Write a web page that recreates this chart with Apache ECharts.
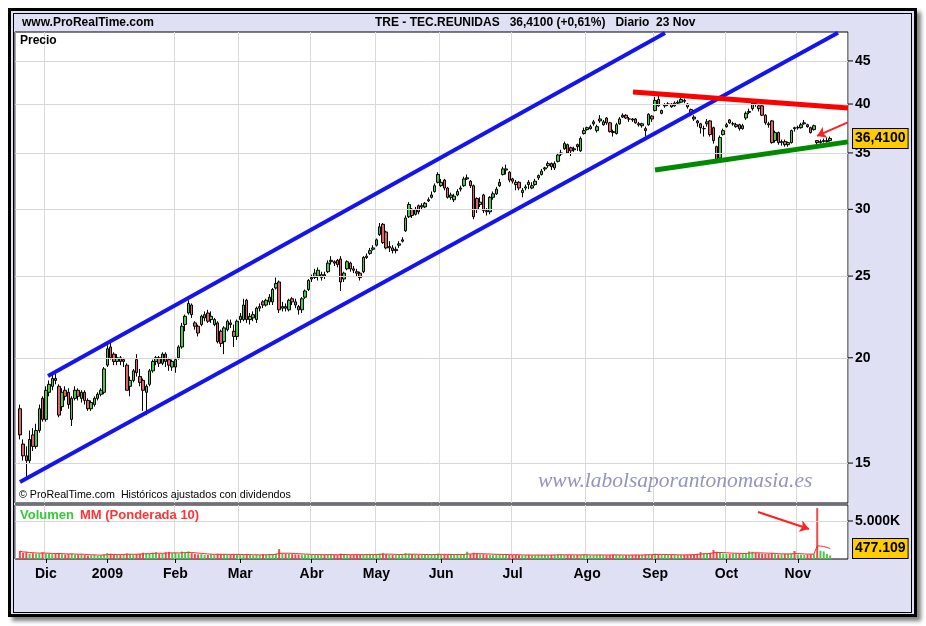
<!DOCTYPE html>
<html><head><meta charset="utf-8">
<script src="https://cdn.jsdelivr.net/npm/echarts@6/dist/echarts.min.js"></script>
<style>
html,body{margin:0;padding:0;background:#fff;}
#frame{position:absolute;left:8px;top:8px;width:909px;height:609px;box-sizing:border-box;border:3px solid #000;background:#e0e0f4;box-shadow:4px 4px 4px rgba(0,0,0,0.5);}
#inner{position:absolute;left:13px;top:13px;width:899px;height:600px;box-sizing:border-box;border:1px solid #000;}
#chart{position:absolute;left:0;top:0;width:926px;height:626px;}
</style></head>
<body><div id="frame"></div><div id="inner"></div><div id="chart"></div>
<script>
// ---------------- DATA ----------------
const holidays = ['2008-12-24','2008-12-25','2008-12-26','2008-12-31','2009-01-01','2009-04-10','2009-04-13','2009-05-01'];
const firstDay = '2008-11-18';
const slotCount = 257;
const monthLabels = ['Ene','Feb','Mar','Abr','May','Jun','Jul','Ago','Sep','Oct','Nov','Dic'];

// [open, close, low, high] per session, starting 2008-11-19
const candles = [
[17.4,16.2,16.0,17.6],[15.8,15.3,15.1,16.0],[15.3,15.1,14.4,15.7],[15.1,16.0,15.0,16.4],[16.2,15.7,15.5,16.5],
[15.7,16.4,15.6,16.7],[16.4,17.4,16.3,17.6],[17.9,16.9,16.8,18.0],[16.9,18.3,16.8,18.5],[18.2,18.6,18.0,18.8],
[18.5,18.9,18.3,19.1],[18.9,18.8,18.6,19.2],[18.5,17.1,17.0,18.6],[17.5,18.2,17.3,18.4],[18.3,18.0,17.8,18.5],
[18.2,17.6,17.4,18.4],[16.9,17.9,16.6,18.0],[17.9,18.3,17.8,18.5],[18.3,18.0,17.8,18.4],[17.9,18.2,17.7,18.3],
[18.2,17.8,17.6,18.3],[17.8,17.4,17.3,17.9],[17.4,17.7,17.3,17.8],[17.6,17.9,17.5,18.0],[17.9,18.1,17.8,18.2],
[18.1,18.3,18.0,18.4],[18.2,19.4,18.1,19.5],[19.6,20.5,19.5,20.7],[20.6,20.0,19.9,21.0],[20.2,19.8,19.6,20.3],
[19.8,20.0,19.6,20.2],[20.0,19.8,19.6,20.1],[19.8,19.9,19.5,20.0],[19.6,18.3,18.3,19.7],[18.5,18.8,18.0,19.0],
[18.8,19.3,18.7,19.4],[19.9,19.2,19.0,20.2],[19.0,18.7,18.5,19.4],[18.8,18.3,17.3,18.9],[18.2,18.5,17.1,18.6],
[18.6,19.3,18.5,19.4],[19.3,19.8,19.2,19.9],[19.8,20.0,19.6,20.1],[20.0,19.7,19.5,20.1],[19.7,20.2,19.6,20.3],
[20.2,19.8,19.5,20.3],[19.9,19.6,19.3,20.0],[19.5,19.8,19.3,19.9],[19.5,19.9,19.2,20.0],[20.0,20.6,19.9,20.7],
[20.6,21.8,20.5,22.0],[21.9,22.4,21.5,22.5],[22.6,23.2,22.5,23.4],[23.1,22.5,22.3,23.2],[22.0,21.8,21.6,22.1],
[21.8,21.4,21.2,21.9],[21.9,22.4,21.8,22.5],[22.3,22.5,22.1,22.7],[22.6,22.1,22.0,22.8],[22.2,22.4,22.0,22.7],
[21.9,22.2,21.8,22.3],[22.0,20.9,20.8,22.1],[21.5,20.8,20.6,21.6],[20.9,21.7,20.2,21.8],[21.6,22.1,21.5,22.2],
[22.0,21.9,21.7,22.2],[21.5,21.2,20.6,21.9],[21.2,22.1,21.0,22.2],[22.2,22.4,22.0,22.6],[22.2,23.1,22.1,23.5],
[23.4,22.2,22.0,23.5],[22.2,22.4,21.9,22.6],[22.3,22.5,22.1,22.7],[22.2,22.9,22.0,23.0],[22.9,23.0,22.7,23.2],
[23.3,23.1,22.9,23.4],[23.1,23.4,23.0,23.5],[23.3,23.6,23.1,23.8],[23.3,24.1,23.1,24.2],[24.2,24.5,24.1,24.9],
[24.6,22.8,22.6,24.7],[22.9,23.0,22.7,23.3],[23.0,22.9,22.7,23.2],[22.8,23.4,22.7,23.5],[23.5,23.3,23.1,23.6],
[23.3,23.1,22.9,23.5],[23.0,22.8,22.5,23.1],[22.8,23.5,22.6,23.6],[23.6,24.0,23.5,24.1],[24.1,24.7,24.0,24.8],
[24.8,24.9,24.6,25.1],[24.9,25.2,24.8,25.5],[25.0,25.4,24.7,25.6],[24.9,25.1,24.7,25.3],[25.1,25.0,24.8,25.3],
[25.3,25.9,25.2,26.1],[26.0,26.1,25.8,26.4],[26.0,25.9,25.7,26.1],[26.1,25.8,25.6,26.2],[26.2,24.6,24.0,26.4],
[24.8,25.2,24.6,25.3],[25.5,26.0,25.4,26.1],[25.9,25.5,25.3,26.0],[25.5,25.4,25.2,25.7],[25.3,25.2,25.0,25.5],
[25.2,24.9,24.7,25.3],[25.3,26.3,25.2,26.4],[26.3,26.4,26.2,26.6],[26.6,26.8,26.5,27.0],[26.9,27.0,26.8,27.2],
[27.2,27.6,27.1,27.7],[28.0,28.6,27.9,28.9],[28.8,27.4,27.3,28.9],[28.2,27.0,26.9,28.3],[27.0,27.1,26.7,27.5],
[27.0,26.8,26.6,27.2],[26.8,26.9,26.6,27.1],[27.2,27.3,27.0,27.5],[27.5,27.6,27.4,27.8],[28.3,29.3,28.2,29.5],
[29.4,30.4,29.3,30.6],[30.0,29.5,29.3,30.1],[29.6,30.0,29.5,30.2],[30.3,29.8,29.6,30.4],[30.2,30.3,30.0,30.5],
[30.2,30.5,30.1,30.6],[30.7,30.8,30.6,31.0],[31.0,31.2,30.9,31.5],[31.5,32.0,31.4,32.2],[32.3,33.0,32.2,33.2],
[32.0,32.3,31.9,32.6],[32.5,31.8,31.6,32.6],[31.8,31.0,30.9,31.9],[31.0,31.2,30.8,31.4],[30.8,31.1,30.6,31.3],
[31.2,31.5,31.1,31.7],[31.7,31.8,31.5,32.0],[32.0,32.6,31.9,32.8],[32.6,32.7,32.5,33.0],[32.4,32.0,31.8,32.5],
[32.0,29.4,29.2,32.1],[30.9,30.0,29.7,31.0],[30.4,30.6,30.2,31.0],[31.2,29.9,29.7,31.3],[29.9,29.8,29.5,30.1],
[29.8,31.0,29.6,31.1],[31.0,31.3,30.8,31.5],[31.3,31.7,31.2,31.9],[32.0,32.3,31.9,32.6],[33.0,33.5,32.9,33.7],
[33.4,33.5,33.0,33.9],[33.2,32.5,32.3,33.3],[32.6,32.4,32.2,32.7],[32.3,32.1,31.6,32.5],[32.3,31.8,31.6,32.4],
[31.4,31.6,31.0,31.8],[31.8,31.9,31.6,32.1],[32.3,32.1,31.7,32.5],[31.8,32.0,31.7,32.3],[32.1,32.4,32.0,32.6],
[32.7,32.9,32.5,33.0],[33.0,33.3,32.9,33.5],[33.5,33.6,33.3,33.7],[33.8,34.0,33.6,34.2],[34.0,33.7,33.4,34.1],
[33.6,34.0,33.4,34.2],[34.2,34.8,34.1,35.0],[34.9,35.0,34.7,35.3],[35.4,35.9,35.3,36.1],[35.8,35.0,34.9,35.9],
[35.5,35.2,34.7,35.6],[35.3,35.4,35.1,35.6],[35.8,35.6,35.2,35.9],[35.2,36.4,35.1,36.6],[36.9,37.2,36.8,37.5],
[37.3,37.5,37.2,37.6],[37.4,37.6,37.3,37.8],[37.9,38.1,37.7,38.3],[37.2,37.6,37.0,37.8],[38.2,38.4,38.0,38.8],
[37.8,38.1,37.7,38.3],[38.5,38.0,37.8,38.6],[38.0,37.1,37.0,38.1],[37.1,37.0,36.6,37.3],[36.9,37.8,36.8,38.0],
[37.9,38.4,37.8,38.6],[38.6,38.8,38.5,39.0],[38.8,38.5,38.4,38.9],[38.4,38.4,38.1,38.6],[38.4,38.3,38.1,38.5],
[38.4,38.0,37.9,38.5],[37.9,37.8,37.6,38.1],[37.7,37.9,37.5,38.0],[37.4,37.2,36.6,37.6],[37.8,38.9,37.7,39.0],
[38.7,38.4,38.1,38.8],[39.3,40.4,39.2,40.8],[40.5,39.8,39.7,40.9],[39.0,39.3,38.9,39.4],[39.8,39.9,39.6,40.1],
[40.0,40.0,39.8,40.2],[40.0,39.7,39.6,40.1],[39.8,40.1,39.7,40.3],[40.1,40.2,39.9,40.4],[40.2,40.5,40.1,40.7],
[40.4,40.3,40.1,40.6],[40.0,39.7,39.5,40.1],[39.4,39.0,38.7,39.5],[38.6,38.4,38.2,38.8],[38.2,38.0,37.6,38.3],
[37.9,37.5,36.9,38.0],[37.4,37.4,36.6,37.7],[37.9,38.1,37.6,38.4],[38.2,36.8,36.6,38.3],[37.5,36.2,35.9,37.6],
[35.6,34.3,34.1,35.7],[34.5,36.5,34.3,36.7],[36.8,37.2,36.7,37.4],[37.6,37.8,37.5,38.0],[38.3,38.0,37.9,38.4],
[37.9,37.9,37.7,38.1],[37.6,37.8,37.5,38.0],[37.8,37.4,37.2,37.9],[37.4,37.7,37.3,37.9],[38.5,39.0,38.3,39.2],
[39.1,39.2,38.9,39.5],[39.5,40.1,39.3,40.3],[40.1,40.0,39.7,40.3],[39.8,39.5,39.2,40.0],[39.8,38.8,38.7,39.9],
[38.8,38.0,37.8,38.9],[37.9,37.8,37.5,38.1],[38.2,36.0,35.9,38.3],[36.2,37.0,36.0,37.2],[37.0,36.0,35.8,37.1],
[36.0,36.1,35.7,36.3],[36.1,35.8,35.6,36.3],[35.8,36.0,35.6,36.1],[36.0,37.2,35.9,37.3],[37.5,37.4,37.1,37.6],
[37.5,37.5,37.3,37.7],[37.5,37.8,37.4,38.0],[37.9,38.0,37.8,38.3],[37.8,37.6,37.5,37.9],[37.5,37.0,36.9,37.6],
[37.3,37.7,37.2,37.8],[36.2,36.0,35.6,36.2],[36.0,36.1,35.9,36.3],[36.1,36.2,36.0,36.4],[36.1,36.19,36.0,36.5],
[36.2,36.41,36.1,36.6]
];

// volume, thousands of shares, same sessions
const volume = [
1050,820,900,700,760,680,720,880,750,690, 640,700,760,620,580,650,700,560,600,640,
520,450,480,560,430,500,620,780,700,610, 560,520,600,720,650,580,640,700,820,760,
690,840,900,650,700,880,940,760,820,700, 980,860,1000,760,650,600,640,560,520,600,
540,700,660,620,580,560,640,600,520,560, 600,540,500,560,520,600,580,640,620,700,
1300,760,720,680,640,620,600,560,580,620, 560,520,540,600,560,580,620,540,520,700,
600,560,520,580,540,560,600,640,580,560, 620,700,760,640,580,560,520,540,580,780,
700,640,600,560,580,540,520,600,640,700, 620,600,560,540,560,600,580,620,960,640,
820,700,620,640,600,560,540,580,620,600, 560,540,520,560,500,480,520,540,500,520,
540,560,520,500,540,560,600,580,540,560, 520,500,540,560,600,520,480,500,540,560,
520,500,540,580,560,520,480,500,520,540, 560,520,540,600,640,560,700,620,560,540,
520,540,560,500,520,540,580,600,640,700, 900,760,700,820,1180,960,800,720,680,640,
700,760,680,720,760,1000,960,820,760,700, 660,700,760,640,600,620,680,680,700,1050,
600,560,520,600,640,620,6700,1100,1000,650, 477.109
];

const priceTicks = [15,20,25,30,35,40,45];
const volumeTicks = [5000];
const priceRange = [13.45, 48.7];
const volumeRange = [0, 7105];

// trend lines: [session slot, price]
const channelUpper = [[9.68,19.03],[200.04,48.58]];
const channelLower = [[1.04,14.24],[253.42,48.6]];
const resistance = [[190.17,41.35],[256.5,39.58]];
const support = [[196.96,33.41],[256.5,36.07]];
const priceArrow = [[256.45,38.05],[246.94,36.66]];
const volumeArrow = [[228.74,6184],[244.47,3947]];

// ---------------- BUILD ----------------
const dates = [];
(function(){
  let t = Date.parse(firstDay + 'T00:00:00Z');
  while (dates.length < slotCount) {
    const d = new Date(t); const wd = d.getUTCDay(); const s = d.toISOString().slice(0,10);
    if (wd !== 0 && wd !== 6 && holidays.indexOf(s) < 0) dates.push(s);
    t += 86400000;
  }
})();
const monthStart = dates.map((d,i) => i > 0 && d.slice(5,7) !== dates[i-1].slice(5,7));
const yearStart = dates.map((d,i) => monthStart[i] && d.slice(5,7) === '01');
const labelOf = d => { const m = +d.slice(5,7); return m === 1 ? d.slice(0,4) : monthLabels[m-1]; };

const FONT = '"Liberation Sans", Arial, Helvetica, sans-serif';
const UP = '#46cc46', DOWN = '#e46262';
const VUP = '#44cc44', VDOWN = '#ee4a4a';

const candleData = ['-'].concat(candles);
const volData = [{value:'-'}].concat(volume.map((v,i) => ({
  value: v, itemStyle: {color: candles[i][1] >= candles[i][0] ? VUP : VDOWN}
})));
const mm = volume.map((v,i) => { let s=0,w=0; for (let k=0;k<10 && i-k>=0;k++){ const wt=10-k; s+=volume[i-k]*wt; w+=wt; } return s/w; });
const mmData = ['-'].concat(mm);

const last = candles[candles.length-1][1], prev = candles[candles.length-2][1];
const fmtPrice = v => v.toFixed(4).replace('.', ',');
const pct = ((last/prev - 1)*100).toFixed(2).replace('.', ',');
const thousands = n => String(Math.round(n)).replace(/\B(?=(\d{3})+(?!\d))/g, '.');
const lastVol = volume[volume.length-1];

const tickLabel = txt => '{t|}{v|' + txt + '}';
const tickRich = {
  t: {width: 5, height: 1, backgroundColor: '#000', verticalAlign: 'middle'},
  v: {padding: [0,0,0,2], fontSize: 14, fontWeight: 'bold', fontFamily: FONT, color: '#000', verticalAlign: 'middle'}
};
const boxLabel = (txt) => ({
  show: true, position: 'end', distance: 5, formatter: () => txt,
  backgroundColor: '#ffcc00', borderColor: '#000', borderWidth: 1, padding: [3,2,2,2],
  fontSize: 14, fontWeight: 'bold', fontFamily: FONT, color: '#000', opacity: 1
});

const seg = (pts, color, width, arrow) => [
  {coord: pts[0], symbol: 'none', lineStyle: {color: color, width: width, type: 'solid', opacity: 1}},
  {coord: pts[1], symbol: arrow ? 'arrow' : 'none', symbolSize: arrow ? 9 : 0}
];

const catAxis = (grid, extra) => Object.assign({
  type: 'category', gridIndex: grid, data: dates, boundaryGap: true,
  axisLine: {show: false}, axisTick: {show: false}, axisLabel: {show: false},
  splitLine: {show: false}
}, extra);

const option = {
  animation: false,
  backgroundColor: 'transparent',
  grid: [
    {left: 15, top: 32, width: 833, height: 471, show: true, backgroundColor: '#fff', borderColor: '#000', borderWidth: 1, containLabel: false, outerBoundsMode: 'none'},
    {left: 15, top: 505, width: 833, height: 54, show: true, backgroundColor: '#fff', borderColor: '#000', borderWidth: 1, containLabel: false, outerBoundsMode: 'none'}
  ],
  xAxis: [
    catAxis(0, {splitLine: {show: true, interval: (i) => monthStart[i] && !yearStart[i], lineStyle: {color: '#dadada', width: 1}}}),
    catAxis(0, {position: 'top', splitLine: {show: true, interval: (i) => yearStart[i], lineStyle: {color: '#a8a8a8', width: 1}}}),
    catAxis(1, {
      splitLine: {show: true, interval: (i) => monthStart[i] && !yearStart[i], lineStyle: {color: '#dadada', width: 1}},
      axisTick: {show: true, interval: (i) => monthStart[i], alignWithLabel: true, length: 4, lineStyle: {color: '#000', width: 1}},
      axisLabel: {show: true, interval: (i) => monthStart[i], formatter: labelOf, margin: 8,
        fontSize: 14, fontWeight: 'bold', fontFamily: FONT, color: '#000'}
    }),
    catAxis(1, {position: 'top', splitLine: {show: true, interval: (i) => yearStart[i], lineStyle: {color: '#a8a8a8', width: 1}}}),
    {type: 'value', gridIndex: 0, min: -0.5, max: slotCount - 0.5, show: false},
    {type: 'value', gridIndex: 1, min: -0.5, max: slotCount - 0.5, show: false}
  ],
  yAxis: [
    {type: 'log', logBase: 10, gridIndex: 0, min: priceRange[0], max: priceRange[1], position: 'right',
      axisLine: {show: false}, axisTick: {show: false}, axisLabel: {show: false}, splitLine: {show: false}},
    {type: 'value', gridIndex: 1, min: volumeRange[0], max: volumeRange[1], position: 'right',
      axisLine: {show: false}, axisTick: {show: false}, axisLabel: {show: false}, splitLine: {show: false}}
  ],
  series: [
    { // price grid lines + tick labels
      type: 'line', xAxisIndex: 4, yAxisIndex: 0, data: [], z: 1, silent: true,
      markLine: {silent: true, symbol: 'none', animation: false,
        lineStyle: {color: '#d8d8d8', width: 1, type: 'solid'},
        label: {show: true, position: 'end', distance: 0, formatter: p => tickLabel(p.value), rich: tickRich},
        data: priceTicks.map(v => ({yAxis: v}))}
    },
    { // volume grid line + tick label
      type: 'line', xAxisIndex: 5, yAxisIndex: 1, data: [], z: 1, silent: true,
      markLine: {silent: true, symbol: 'none', animation: false,
        lineStyle: {color: '#d8d8d8', width: 1, type: 'solid'},
        label: {show: true, position: 'end', distance: 0, formatter: p => tickLabel(thousands(p.value) + 'K'), rich: tickRich},
        data: volumeTicks.map(v => ({yAxis: v}))}
    },
    { // last price box
      type: 'line', xAxisIndex: 4, yAxisIndex: 0, data: [], z: 6, silent: true,
      markLine: {silent: true, symbol: 'none', animation: false,
        lineStyle: {color: 'rgba(255,255,255,0)', width: 1, type: 'solid'},
        label: boxLabel(fmtPrice(last)),
        data: [{yAxis: last}]}
    },
    { // last volume box
      type: 'line', xAxisIndex: 5, yAxisIndex: 1, data: [], z: 6, silent: true,
      markLine: {silent: true, symbol: 'none', animation: false,
        lineStyle: {color: 'rgba(255,255,255,0)', width: 1, type: 'solid'},
        label: boxLabel(thousands(lastVol*1000)),
        data: [{yAxis: mm[mm.length-1]}]}
    },
    {
      type: 'candlestick', xAxisIndex: 0, yAxisIndex: 0, data: candleData, z: 3, barWidth: 3,
      itemStyle: {color: UP, color0: DOWN, borderColor: '#000', borderColor0: '#000', borderColorDoji: '#000', borderWidth: 1}
    },
    {
      type: 'bar', xAxisIndex: 2, yAxisIndex: 1, data: volData, barWidth: 2, z: 3
    },
    {
      type: 'line', xAxisIndex: 2, yAxisIndex: 1, data: mmData, z: 4, symbol: 'none',
      lineStyle: {color: '#ff2a2a', width: 1}, silent: true
    },
    { // trend lines on price
      type: 'line', xAxisIndex: 4, yAxisIndex: 0, data: [], z: 5, silent: true,
      markLine: {silent: true, animation: false, symbol: 'none', label: {show: false},
        data: [
          seg(channelUpper, '#1414f0', 4),
          seg(channelLower, '#1414f0', 4),
          seg(resistance, '#ff0000', 5),
          seg(support, '#008a00', 5),
          seg(priceArrow, '#ff2020', 2, true)
        ]}
    },
    { // arrow on volume
      type: 'line', xAxisIndex: 5, yAxisIndex: 1, data: [], z: 5, silent: true,
      markLine: {silent: true, animation: false, symbol: 'none', label: {show: false},
        data: [seg(volumeArrow, '#ff2020', 2, true)]}
    }
  ],
  graphic: [
    {type: 'text', x: 22, y: 23, z: 100, style: {text: 'www.ProRealTime.com', font: 'bold 12px ' + FONT, fill: '#000', verticalAlign: 'middle'}},
    {type: 'text', x: 375, y: 23, z: 100, style: {text: 'TRE - TEC.REUNIDAS   ' + fmtPrice(last) + ' (+' + pct + '%)   Diario  23 Nov', font: 'bold 12px ' + FONT, fill: '#000', verticalAlign: 'middle'}},
    {type: 'text', x: 20, y: 41, z: 100, style: {text: 'Precio', font: 'bold 12px ' + FONT, fill: '#000', verticalAlign: 'middle'}},
    {type: 'text', x: 19, y: 495, z: 100, style: {text: '© ProRealTime.com  Históricos ajustados con dividendos', font: '10.7px ' + FONT, fill: '#000', verticalAlign: 'middle'}},
    {type: 'text', x: 20, y: 515, z: 100, style: {text: 'Volumen', font: 'bold 13px ' + FONT, fill: '#33cc33', verticalAlign: 'middle'}},
    {type: 'text', x: 80, y: 515, z: 100, style: {text: 'MM (Ponderada 10)', font: 'bold 13px ' + FONT, fill: '#ff3333', verticalAlign: 'middle'}},
    {type: 'text', x: 538, y: 481, z: 100, style: {text: 'www.labolsaporantonomasia.es', font: 'italic 21.5px "Liberation Serif", "Times New Roman", serif', fill: '#9494c0', verticalAlign: 'middle'}}
  ]
};

const chart = echarts.init(document.getElementById('chart'), null, {renderer: 'canvas'});
chart.setOption(option);
</script></body></html>
